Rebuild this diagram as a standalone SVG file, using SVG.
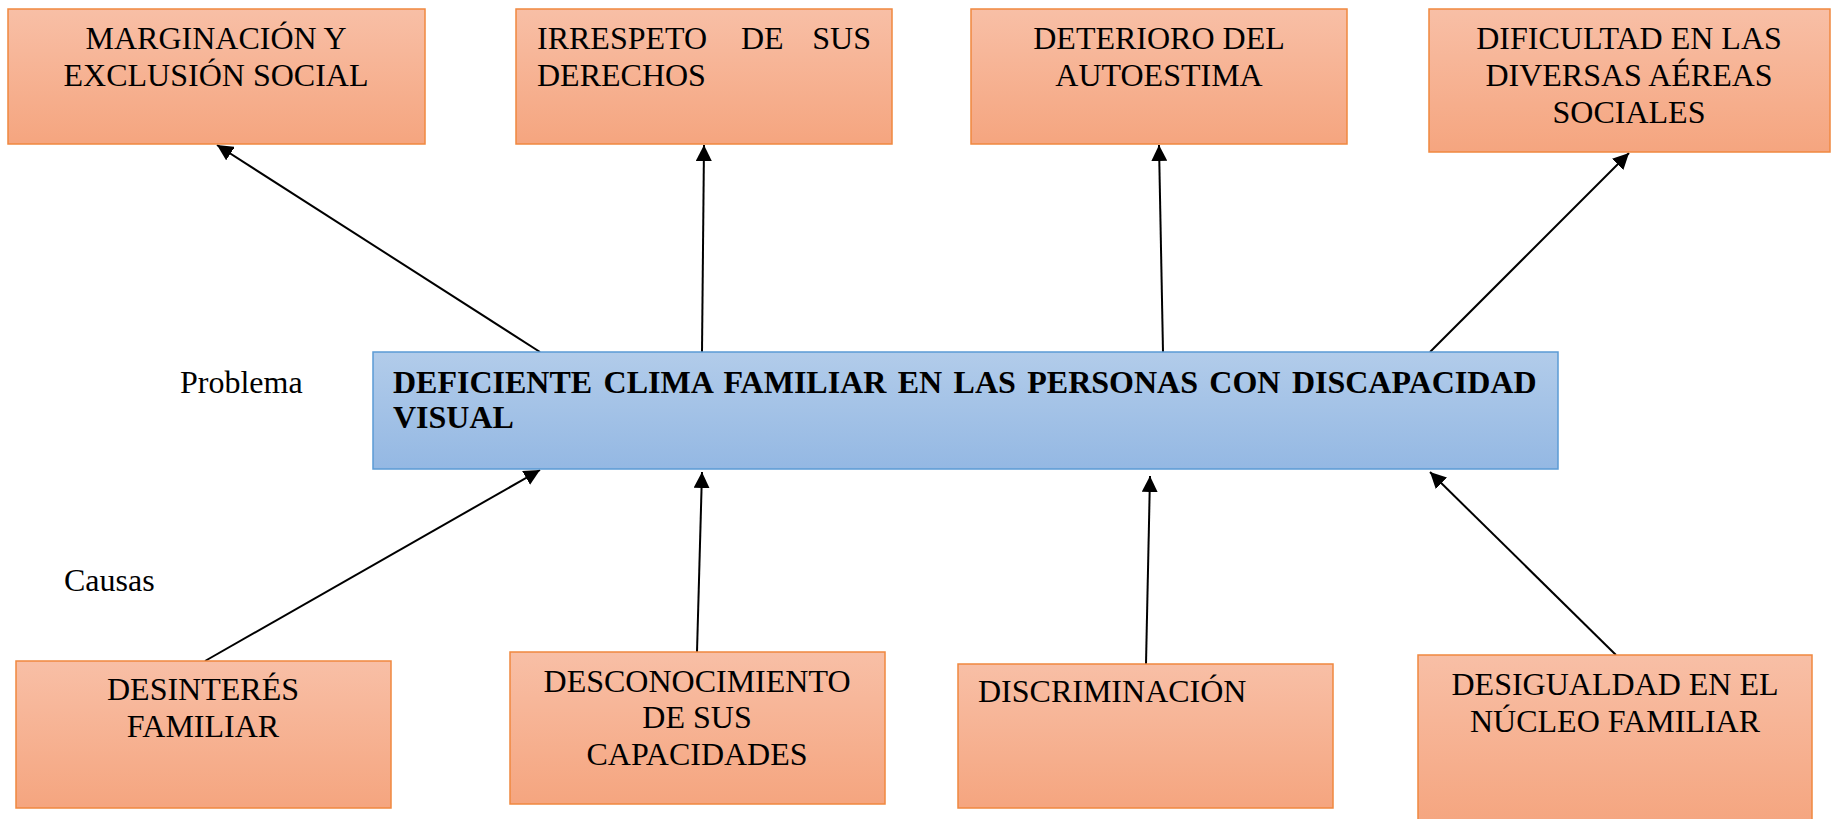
<svg xmlns="http://www.w3.org/2000/svg" width="1835" height="819" viewBox="0 0 1835 819">
<style>
.box{fill:url(#og);stroke:#F0883F;stroke-width:1.5}
.main{fill:url(#bg);stroke:#5B9BD5;stroke-width:1.5}
.t{font-family:"Liberation Serif","Times New Roman",serif;font-size:32px;fill:#000}
.c{text-anchor:middle}
.b{font-weight:bold;word-spacing:3.4px}
.lbl{font-family:"Liberation Serif","Times New Roman",serif;font-size:32px;fill:#000}
.con{stroke:#000;stroke-width:2;fill:none;marker-end:url(#ah)}
</style>
<defs>
<linearGradient id="og" x1="0" y1="0" x2="0" y2="1">
<stop offset="0" stop-color="#F8BFA6"/>
<stop offset="1" stop-color="#F5A57F"/>
</linearGradient>
<linearGradient id="bg" x1="0" y1="0" x2="0" y2="1">
<stop offset="0" stop-color="#B2CCEA"/>
<stop offset="1" stop-color="#94B8E3"/>
</linearGradient>
<marker id="ah" markerUnits="userSpaceOnUse" markerWidth="16" markerHeight="16" refX="16" refY="8" orient="auto">
<path d="M0,0 L16,8 L0,16 Z" fill="#000"/>
</marker>
</defs>
<rect width="1835" height="819" fill="#fff"/>
<g id="connectors">
<line class="con" x1="540" y1="352" x2="217" y2="145"/>
<line class="con" x1="702" y1="352" x2="704" y2="145"/>
<line class="con" x1="1163" y1="352" x2="1159" y2="145"/>
<line class="con" x1="1430" y1="352" x2="1629" y2="153"/>
<line class="con" x1="205" y1="661" x2="540" y2="470"/>
<line class="con" x1="697" y1="652" x2="702" y2="472"/>
<line class="con" x1="1146" y1="664" x2="1150" y2="476"/>
<line class="con" x1="1616" y1="655" x2="1430" y2="472"/>
</g>
<g id="efecto1">
<rect class="box" x="8" y="9" width="417" height="135"/>
<text class="t c" x="216" y="49">MARGINACIÓN Y</text>
<text class="t c" x="216" y="86">EXCLUSIÓN SOCIAL</text>
</g>
<g id="efecto2">
<rect class="box" x="516" y="9" width="376" height="135"/>
<text class="t" x="537" y="49">IRRESPETO</text>
<text class="t" x="741" y="49">DE</text>
<text class="t" x="871" y="49" text-anchor="end">SUS</text>
<text class="t" x="537" y="86">DERECHOS</text>
</g>
<g id="efecto3">
<rect class="box" x="971" y="9" width="376" height="135"/>
<text class="t c" x="1159" y="49">DETERIORO DEL</text>
<text class="t c" x="1159" y="86">AUTOESTIMA</text>
</g>
<g id="efecto4">
<rect class="box" x="1429" y="9" width="401" height="143"/>
<text class="t c" x="1629" y="49">DIFICULTAD EN LAS</text>
<text class="t c" x="1629" y="86">DIVERSAS AÉREAS</text>
<text class="t c" x="1629" y="123">SOCIALES</text>
</g>
<g id="problema">
<rect class="main" x="373" y="352" width="1185" height="117"/>
<text class="t b" x="393" y="393">DEFICIENTE CLIMA FAMILIAR EN LAS PERSONAS CON DISCAPACIDAD</text>
<text class="t b" x="393" y="428">VISUAL</text>
</g>
<g id="etiquetas">
<text class="lbl" x="180" y="393">Problema</text>
<text class="lbl" x="64" y="591">Causas</text>
</g>
<g id="causa1">
<rect class="box" x="16" y="661" width="375" height="147"/>
<text class="t c" x="203" y="700">DESINTERÉS</text>
<text class="t c" x="203" y="737">FAMILIAR</text>
</g>
<g id="causa2">
<rect class="box" x="510" y="652" width="375" height="152"/>
<text class="t c" x="697" y="692">DESCONOCIMIENTO</text>
<text class="t c" x="697" y="728">DE SUS</text>
<text class="t c" x="697" y="765">CAPACIDADES</text>
</g>
<g id="causa3">
<rect class="box" x="958" y="664" width="375" height="144"/>
<text class="t" x="978" y="702">DISCRIMINACIÓN</text>
</g>
<g id="causa4">
<rect class="box" x="1418" y="655" width="394" height="170"/>
<text class="t c" x="1615" y="695">DESIGUALDAD EN EL</text>
<text class="t c" x="1615" y="732">NÚCLEO FAMILIAR</text>
</g>
</svg>
